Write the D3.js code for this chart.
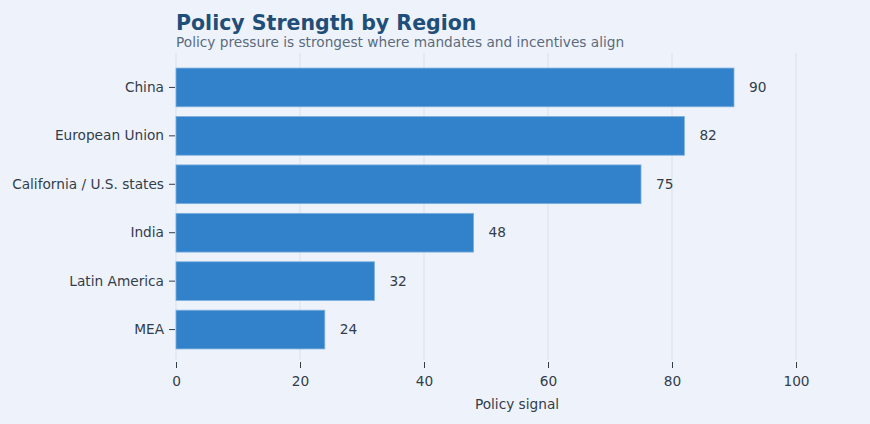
<!DOCTYPE html>
<html><head><meta charset="utf-8">
<script src="https://cdn.jsdelivr.net/npm/d3@7"></script>
<style>
body{margin:0;background:#eef3fb;}
svg{display:block;font-family:"DejaVu Sans",sans-serif;}
</style></head><body>
<svg id="c" width="870" height="424"></svg>
<script>
const categories = ["China","European Union","California / U.S. states","India","Latin America","MEA"];
const values = [90,82,75,48,32,24];
const xTicks = [0,20,40,60,80,100];

const W=870,H=424, m={l:176,r:74,t:54.5,b:61.5};
const FS=13.7;
const svg=d3.select("#c");
svg.append("rect").attr("width",W).attr("height",H).attr("fill","#eef3fb");
const x=d3.scaleLinear().domain([0,100]).range([m.l,W-m.r]);
const y=d3.scaleBand().domain(categories).range([m.t,H-m.b]).paddingInner(0.2).paddingOuter(0.28);

// grid
svg.append("g").selectAll("line").data(xTicks).join("line")
 .attr("x1",d=>x(d)).attr("x2",d=>x(d)).attr("y1",53).attr("y2",360)
 .attr("stroke","#d9e1ec").attr("stroke-width",1);

// bars
svg.append("g").selectAll("rect").data(values).join("rect")
 .attr("x",x(0)).attr("y",(d,i)=>y(categories[i]))
 .attr("width",d=>x(d)-x(0)).attr("height",y.bandwidth())
 .attr("fill","#3182ca").attr("stroke","#7fb0de").attr("stroke-width",0.8);

// value labels
svg.append("g").selectAll("text").data(values).join("text")
 .attr("x",d=>x(d)+15).attr("y",(d,i)=>y(categories[i])+y.bandwidth()/2)
 .attr("dy","0.32em").attr("font-size",FS).attr("fill","#333d4a").text(d=>d);

// x axis
const xa=svg.append("g").attr("transform",`translate(0,362)`)
 .call(d3.axisBottom(x).tickValues(xTicks).tickSize(6).tickPadding(8));
xa.select(".domain").remove();
xa.selectAll("line").attr("stroke","#333d4a");
xa.selectAll("text").attr("font-size",FS).attr("fill","#333d4a").attr("font-family","DejaVu Sans");

// y axis
const ya=svg.append("g").attr("transform",`translate(${m.l},0)`)
 .call(d3.axisLeft(y).tickSize(6).tickPadding(6));
ya.select(".domain").remove();
ya.selectAll("line").attr("stroke","#333d4a").attr("transform","translate(-1,0)");
ya.selectAll("text").attr("font-size",FS).attr("fill","#333d4a").attr("font-family","DejaVu Sans");

svg.append("text").attr("x",517).attr("y",409).attr("text-anchor","middle")
 .attr("font-size",FS).attr("fill","#333d4a").text("Policy signal");

svg.append("text").attr("x",176).attr("y",30).attr("font-size",20.5).attr("font-weight","bold")
 .attr("fill","#1f4e79").text("Policy Strength by Region");
svg.append("text").attr("x",176).attr("y",47).attr("font-size",13.7)
 .attr("fill","#5b6b7e").text("Policy pressure is strongest where mandates and incentives align");
</script></body></html>
